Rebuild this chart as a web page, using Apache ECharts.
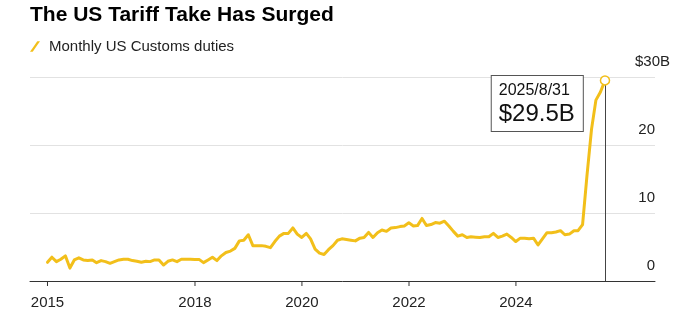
<!DOCTYPE html>
<html><head><meta charset="utf-8">
<script src="https://cdn.jsdelivr.net/npm/echarts@6/dist/echarts.min.js"></script>
<style>html,body{margin:0;padding:0;background:#fff}#c{width:680px;height:334px}</style>
</head><body><div id="c"></div>
<script>
const titleText = 'The US Tariff Take Has Surged';
const seriesName = 'Monthly US Customs duties';
const firstYear = 2015, firstMonth = 3; // first month-end observation: March 2015
// Monthly US customs duties, $B (Mar 2015 .. Aug 2025)
const duties = [
  2.75, 3.5, 2.85, 3.2, 3.7, 1.9, 3.1, 3.4, 3.1, 3.0,
  3.1, 2.7, 3.0, 2.85, 2.6, 2.85, 3.1, 3.2, 3.2, 3.0,
  2.9, 2.75, 2.9, 2.85, 3.1, 3.1, 2.35, 2.9, 3.1, 2.85,
  3.2, 3.2, 3.2, 3.15, 3.15, 2.7, 3.1, 3.5, 3.0, 3.7,
  4.2, 4.4, 4.8, 5.9, 6.0, 6.8, 5.2, 5.2, 5.2, 5.1,
  4.9, 5.8, 6.6, 7.0, 7.0, 7.8, 6.9, 6.4, 7.0, 6.2,
  4.7, 4.1, 3.9, 4.6, 5.2, 6.0, 6.2, 6.1, 6.0, 5.9,
  6.3, 6.4, 7.15, 6.4, 7.1, 7.5, 7.3, 7.8, 7.85, 8.0,
  8.1, 8.55, 8.1, 8.15, 9.2, 8.15, 8.3, 8.6, 8.5, 8.8,
  8.1, 7.3, 6.6, 6.8, 6.4, 6.5, 6.45, 6.4, 6.5, 6.5,
  7.0, 6.4, 6.6, 6.9, 6.4, 5.8, 6.3, 6.3, 6.2, 6.3,
  5.3, 6.2, 7.1, 7.1, 7.2, 7.4, 6.8, 6.9, 7.4, 7.4,
  8.3, 15.5, 22.3, 26.6, 27.8, 29.5
];
const xTickLabels = ['2015', '2018', '2020', '2022', '2024'];
const xTickDates = ['2015-03-31', '2018-01-01', '2020-01-01', '2022-01-01', '2024-01-01'];
const yTicks = [0, 10, 20, 30];

const YELLOW = '#F2BF1A';
const FONT = 'Liberation Sans';
const utc = s => { const p = s.split('-').map(Number); return Date.UTC(p[0], p[1] - 1, p[2]); };
const dates = duties.map((_, k) => Date.UTC(firstYear, firstMonth + k, 0));
const data = duties.map((v, k) => [dates[k], v]);
const lastDate = dates[dates.length - 1];
const lastVal = duties[duties.length - 1];
const ld = new Date(lastDate);
const lastDateText = ld.getUTCFullYear() + '/' + (ld.getUTCMonth() + 1) + '/' + ld.getUTCDate();
const tickTs = xTickDates.map(utc);
const labelFor = {};
tickTs.forEach((t, i) => labelFor[t] = xTickLabels[i]);
const yearMs = 365.25 * 864e5;
const anchor = utc('2018-01-01');

const chart = echarts.init(document.getElementById('c'));
chart.setOption({
  animation: false,
  backgroundColor: '#fff',
  textStyle: { fontFamily: FONT },
  title: {
    text: titleText, left: 25, top: 0,
    textStyle: { fontFamily: FONT, fontSize: 21, fontWeight: 'bold', color: '#000' }
  },
  legend: {
    left: 25, top: 34, itemWidth: 10, itemHeight: 11, itemGap: 10,
    data: [{ name: seriesName, icon: 'path://M0,10L7,0L9.6,0L2.6,10Z' }],
    textStyle: { fontFamily: FONT, fontSize: 15, color: '#222', padding: [0, 0, 0, 4] }
  },
  grid: { left: 30, right: 25, top: 77, bottom: 53, containLabel: false },
  xAxis: {
    type: 'value',
    min: anchor - 3.084 * yearMs,
    max: anchor + 8.598 * yearMs,
    splitLine: { show: false },
    axisLine: { show: true, lineStyle: { color: '#333', width: 1 } },
    axisTick: { show: false },
    axisLabel: {
      customValues: tickTs, margin: 14, fontSize: 15, color: '#222', fontFamily: FONT,
      hideOverlap: false,
      formatter: v => labelFor[v] !== undefined ? labelFor[v] : String(new Date(v).getUTCFullYear())
    }
  },
  yAxis: [{
    type: 'value', position: 'right', min: yTicks[0], max: yTicks[yTicks.length - 1], interval: 10,
    axisLine: { show: false }, axisTick: { show: false },
    splitLine: { show: true, lineStyle: { color: '#e2e2e2', width: 1 } },
    axisLabel: {
      inside: true, margin: 0, align: 'right', verticalAlign: 'bottom', padding: [0, 0, 7, 0],
      lineHeight: 16, fontSize: 15, color: '#222', fontFamily: FONT,
      formatter: v => v === yTicks[yTicks.length - 1] ? '' : String(v)
    }
  }, {
    type: 'value', position: 'right', min: yTicks[0], max: yTicks[yTicks.length - 1], interval: 10,
    axisLine: { show: false }, axisTick: { show: false }, splitLine: { show: false },
    axisLabel: {
      inside: true, margin: -15, align: 'right', verticalAlign: 'bottom', padding: [0, 0, 7, 0],
      lineHeight: 16, fontSize: 15, color: '#222', fontFamily: FONT,
      formatter: v => v === yTicks[yTicks.length - 1] ? '$' + v + 'B' : ''
    }
  }],
  series: [{
    name: seriesName, type: 'line', data: data, showSymbol: false, symbol: 'circle',
    itemStyle: { color: YELLOW },
    lineStyle: { color: YELLOW, width: 3, cap: 'round', join: 'round' },
    z: 3,
    markLine: {
      silent: true, symbol: ['none', 'none'], label: { show: false }, z: 2,
      lineStyle: { color: '#444', width: 1, type: 'solid' },
      data: [[{ coord: [lastDate, lastVal] }, { coord: [lastDate, 0] }]]
    },
    markPoint: {
      silent: true, symbol: 'circle', symbolSize: 9, z: 5,
      itemStyle: { color: '#fff', borderColor: YELLOW, borderWidth: 1.5 },
      data: [{
        coord: [lastDate, lastVal],
        label: {
          show: true, position: 'left', distance: 18, offset: [-90, 23],
          formatter: '{d|' + lastDateText + '}\n{v|$' + lastVal + 'B}',
          backgroundColor: '#fff', borderColor: '#555', borderWidth: 1,
          padding: [5, 8, 3, 7], align: 'left',
          rich: {
            d: { fontSize: 16, lineHeight: 19, color: '#111', fontFamily: FONT },
            v: { fontSize: 24, lineHeight: 28, color: '#111', fontFamily: FONT }
          }
        }
      }]
    }
  }, {
    name: 'xTicks', type: 'custom', silent: true, clip: false, z: 1,
    data: tickTs.map(t => [t, 0]),
    renderItem: (params, api) => {
      const p = api.coord([api.value(0), 0]);
      return {
        type: 'line',
        shape: { x1: p[0], y1: p[1], x2: p[0], y2: p[1] + 5 },
        style: { stroke: '#333', lineWidth: 1 }
      };
    }
  }]
});
</script>
</body></html>
